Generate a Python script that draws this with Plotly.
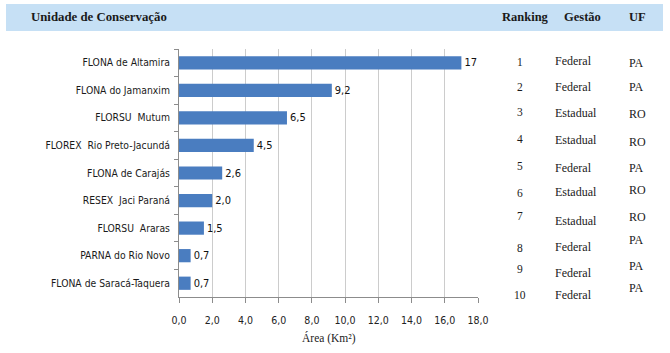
import plotly.graph_objects as go

# ---- data ----
unidades = ["FLONA de Altamira", "FLONA do Jamanxim", "FLORSU  Mutum",
            "FLOREX  Rio Preto-Jacundá", "FLONA de Carajás", "RESEX  Jaci Paraná",
            "FLORSU  Araras", "PARNA do Rio Novo", "FLONA de Saracá-Taquera"]
areas = [17, 9.2, 6.5, 4.5, 2.6, 2.0, 1.5, 0.7, 0.7]
area_labels = ["17", "9,2", "6,5", "4,5", "2,6", "2,0", "1,5", "0,7", "0,7"]
ranking = ["1", "2", "3", "4", "5", "6", "7", "8", "9", "10"]
gestao = ["Federal", "Federal", "Estadual", "Estadual", "Federal", "Estadual",
          "Estadual", "Federal", "Federal", "Federal"]
uf = ["PA", "PA", "RO", "RO", "PA", "RO", "RO", "PA", "PA", "PA"]
headers = ["Unidade de Conservação", "Ranking", "Gestão", "UF"]
x_ticks = [0, 2, 4, 6, 8, 10, 12, 14, 16, 18]

# ---- layout geometry (pixels) ----
W, H = 670, 353
L, R, T, B = 179, 478, 49, 297
rank_y = [62, 87, 112, 139, 166, 193, 216, 248, 269, 295]
gest_y = [61, 87, 113, 140, 168, 192, 221, 247, 273, 295]
uf_y = [63, 87, 114, 142, 168, 190, 217, 240, 266, 288]


def px(xp):
    return (xp - L) / (R - L)


def py(yp):
    return (B - yp) / (B - T)


serif = "Liberation Serif, Times New Roman, serif"
narrow = "DejaVu Sans Condensed, sans-serif"

fig = go.Figure(go.Bar(
    x=areas, y=unidades, orientation="h",
    marker=dict(color="#4A7DC0", line=dict(width=0)),
    text=area_labels, textposition="outside", cliponaxis=False,
    textfont=dict(family=narrow, size=11, color="#111111"),
    hoverinfo="skip",
))

annotations = []
# header
hdr_x = [29, 500, 562, 627]
hdr_size = [12.8, 12.5, 12.5, 12.5]
for h, xx, fs in zip(headers, hdr_x, hdr_size):
    annotations.append(dict(text="<b>%s</b>" % h, x=px(xx), y=py(17), xref="paper", yref="paper",
                            xanchor="left", yanchor="middle", showarrow=False,
                            font=dict(family=serif, size=fs, color="#1a1a1a")))
for i in range(len(ranking)):
    annotations.append(dict(text=ranking[i], x=px(520), y=py(rank_y[i]), xref="paper", yref="paper",
                            xanchor="center", yanchor="middle", showarrow=False,
                            font=dict(family=serif, size=11.5, color="#1a1a1a")))
    annotations.append(dict(text=gestao[i], x=px(553), y=py(gest_y[i]), xref="paper", yref="paper",
                            xanchor="left", yanchor="middle", showarrow=False,
                            font=dict(family=serif, size=12, color="#1a1a1a")))
    annotations.append(dict(text=uf[i], x=px(627), y=py(uf_y[i]), xref="paper", yref="paper",
                            xanchor="left", yanchor="middle", showarrow=False,
                            font=dict(family=serif, size=12, color="#1a1a1a")))
# axis title
annotations.append(dict(text="Área (Km²)", x=0.5, y=py(338), xref="paper", yref="paper",
                        xanchor="center", yanchor="middle", showarrow=False,
                        font=dict(family=serif, size=11.5, color="#222222")))

fig.update_layout(
    width=W, height=H,
    margin=dict(l=L, r=W - R, t=T, b=H - B, pad=0),
    paper_bgcolor="white", plot_bgcolor="white",
    showlegend=False, bargap=0.52,
    annotations=annotations,
    shapes=[dict(type="rect", xref="paper", yref="paper",
                 x0=px(6), x1=px(663), y0=py(31), y1=py(4),
                 fillcolor="#C6E0F5", line=dict(width=0), layer="below")],
    xaxis=dict(range=[0, 18], tickvals=x_ticks,
               ticktext=[("%.1f" % v).replace(".", ",") for v in x_ticks],
               showgrid=True, gridcolor="#CCCCCC", gridwidth=1,
               showline=True, linecolor="#8C8C8C", linewidth=1,
               ticks="outside", ticklen=5, tickcolor="#8C8C8C",
               ticklabelstandoff=8,
               tickfont=dict(family=narrow, size=10.5, color="#222222"),
               zeroline=False, fixedrange=True),
    yaxis=dict(autorange="reversed", showline=True, linecolor="#8C8C8C", linewidth=1,
               ticks="outside", ticklen=4, tickcolor="#8C8C8C", tickson="boundaries",
               tickfont=dict(family=narrow, size=10.3, color="#1a1a1a"),
               ticklabelstandoff=6, showgrid=False, fixedrange=True),
)

fig.write_html("out.html")
